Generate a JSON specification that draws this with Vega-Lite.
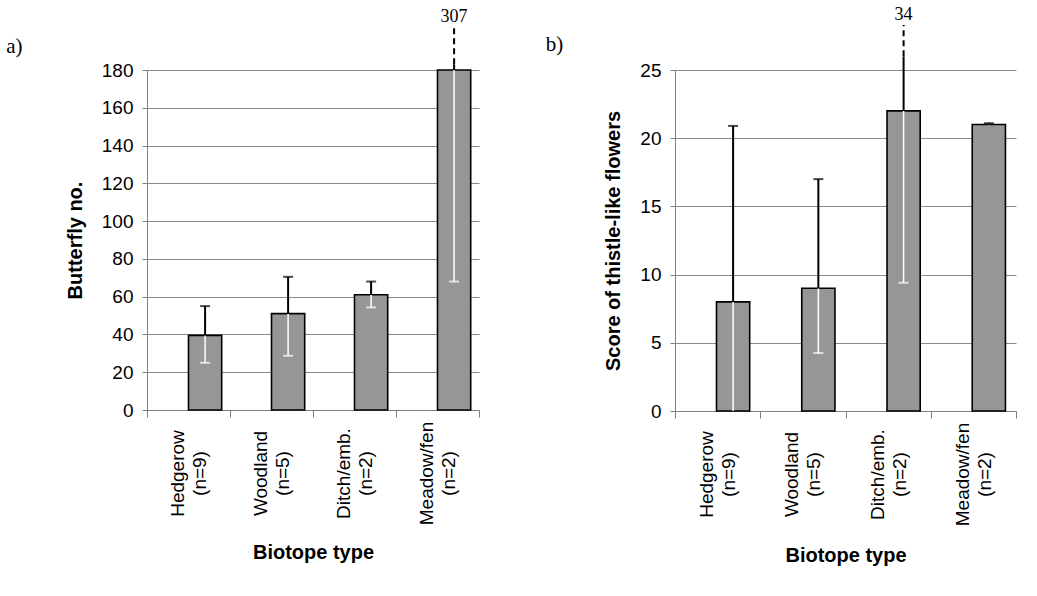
{
  "$schema": "https://vega.github.io/schema/vega-lite/v6.json",
  "padding": {"left": 6, "top": 5, "right": 0, "bottom": 0},
  "background": "white",
  "config": {
    "font": "Liberation Sans",
    "view": {"stroke": null},
    "concat": {"spacing": 65},
    "axis": {
      "labelFont": "Liberation Sans", "labelFontSize": 19, "labelColor": "#000",
      "titleFont": "Liberation Sans", "titleFontSize": 20, "titleFontWeight": "bold", "titleColor": "#000",
      "domainColor": "#808080", "tickColor": "#808080", "gridColor": "#8a8a8a", "gridWidth": 1
    }
  },
  "datasets": {
    "butterfly": [
      {"biotope": "Hedgerow (n=9)", "series": "s2", "mean": 39.5, "upper_solid": 55, "upper_cap": 55, "lower": 25, "lower_cap": 25, "dash_from": null, "dash_to": null, "upper_text": null},
      {"biotope": "Woodland (n=5)", "series": "s2", "mean": 51, "upper_solid": 70.5, "upper_cap": 70.5, "lower": 28.7, "lower_cap": 28.7, "dash_from": null, "dash_to": null, "upper_text": null},
      {"biotope": "Ditch/emb. (n=2)", "series": "s2", "mean": 61, "upper_solid": 68, "upper_cap": 68, "lower": 54.3, "lower_cap": 54.3, "dash_from": null, "dash_to": null, "upper_text": null},
      {"biotope": "Meadow/fen (n=2)", "series": "s2", "mean": 180, "upper_solid": 183, "upper_cap": null, "lower": 68, "lower_cap": 68, "dash_from": 183, "dash_to": 203, "upper_text": "307"}
    ],
    "thistle": [
      {"biotope": "Hedgerow (n=9)", "series": "s2", "mean": 8, "upper_solid": 20.9, "upper_cap": 20.9, "lower": 0, "lower_cap": null, "dash_from": null, "dash_to": null, "upper_text": null},
      {"biotope": "Woodland (n=5)", "series": "s2", "mean": 9, "upper_solid": 17, "upper_cap": 17, "lower": 4.25, "lower_cap": 4.25, "dash_from": null, "dash_to": null, "upper_text": null},
      {"biotope": "Ditch/emb. (n=2)", "series": "s2", "mean": 22, "upper_solid": 26, "upper_cap": null, "lower": 9.4, "lower_cap": 9.4, "dash_from": 26, "dash_to": 28.3, "upper_text": "34"},
      {"biotope": "Meadow/fen (n=2)", "series": "s2", "mean": 21, "upper_solid": 21.1, "upper_cap": 21.1, "lower": 20.95, "lower_cap": null, "dash_from": null, "dash_to": null, "upper_text": null}
    ]
  },
  "hconcat": [
    {
      "title": {"text": "a)", "anchor": "start", "frame": "bounds", "font": "Liberation Serif", "fontSize": 21, "fontWeight": "normal", "color": "#000", "dx": -59, "dy": 49, "offset": 0},
      "width": 332,
      "height": 340,
      "data": {"name": "butterfly"},
      "encoding": {
        "x": {
          "field": "biotope", "type": "nominal", "sort": null,
          "scale": {"paddingInner": 0, "paddingOuter": 0},
          "axis": {"title": "Biotope type", "labelAngle": -90, "labelAlign": "center", "labelBaseline": "middle", "labelPadding": 56, "labelOffset": -11, "labelExpr": "split(datum.label, ' ')", "labelLineHeight": 22, "tickBand": "extent", "tickSize": 7, "titlePadding": 18}
        },
        "xOffset": {"field": "series", "type": "nominal", "scale": {"domain": ["s1", "s2"], "paddingInner": 0, "paddingOuter": 0.25}}
      },
      "layer": [
        {
          "mark": {"type": "bar", "fill": "#969696", "stroke": "#000", "strokeWidth": 1.6},
          "encoding": {
            "y": {"field": "mean", "type": "quantitative", "scale": {"domain": [0, 180], "nice": false},
              "axis": {"title": "Butterfly no.", "values": [0, 20, 40, 60, 80, 100, 120, 140, 160, 180], "labelOverlap": false, "grid": true, "tickSize": 5, "labelPadding": 9, "titlePadding": 16}}
          }
        },
        {"mark": {"type": "rule", "color": "#fff", "strokeWidth": 1.5}, "encoding": {"y": {"field": "lower", "type": "quantitative", "axis": {"title": "Butterfly no.", "values": [0, 20, 40, 60, 80, 100, 120, 140, 160, 180], "labelOverlap": false, "grid": true, "tickSize": 5, "labelPadding": 9, "titlePadding": 16}}, "y2": {"field": "mean"}}},
        {"mark": {"type": "rule", "color": "#000", "strokeWidth": 2}, "encoding": {"y": {"field": "mean", "type": "quantitative", "axis": {"title": "Butterfly no.", "values": [0, 20, 40, 60, 80, 100, 120, 140, 160, 180], "labelOverlap": false, "grid": true, "tickSize": 5, "labelPadding": 9, "titlePadding": 16}}, "y2": {"field": "upper_solid"}}},
        {"mark": {"type": "rule", "color": "#000", "strokeWidth": 2, "strokeDash": [6, 4]}, "encoding": {"y": {"field": "dash_from", "type": "quantitative", "axis": {"title": "Butterfly no.", "values": [0, 20, 40, 60, 80, 100, 120, 140, 160, 180], "labelOverlap": false, "grid": true, "tickSize": 5, "labelPadding": 9, "titlePadding": 16}}, "y2": {"field": "dash_to"}}},
        {"mark": {"type": "tick", "color": "#000", "thickness": 2, "size": 10}, "encoding": {"y": {"field": "upper_cap", "type": "quantitative", "axis": {"title": "Butterfly no.", "values": [0, 20, 40, 60, 80, 100, 120, 140, 160, 180], "labelOverlap": false, "grid": true, "tickSize": 5, "labelPadding": 9, "titlePadding": 16}}}},
        {"mark": {"type": "tick", "color": "#fff", "thickness": 2, "size": 10}, "encoding": {"y": {"field": "lower_cap", "type": "quantitative", "axis": {"title": "Butterfly no.", "values": [0, 20, 40, 60, 80, 100, 120, 140, 160, 180], "labelOverlap": false, "grid": true, "tickSize": 5, "labelPadding": 9, "titlePadding": 16}}}},
        {"mark": {"type": "text", "font": "Liberation Serif", "fontSize": 18, "baseline": "bottom", "dy": -1, "color": "#000"}, "encoding": {"y": {"field": "dash_to", "type": "quantitative", "axis": {"title": "Butterfly no.", "values": [0, 20, 40, 60, 80, 100, 120, 140, 160, 180], "labelOverlap": false, "grid": true, "tickSize": 5, "labelPadding": 9, "titlePadding": 16}}, "text": {"field": "upper_text"}}}
      ]
    },
    {
      "title": {"text": "b)", "anchor": "start", "frame": "bounds", "font": "Liberation Serif", "fontSize": 21, "fontWeight": "normal", "color": "#000", "dx": -58, "dy": 49, "offset": 0},
      "width": 341,
      "height": 341,
      "data": {"name": "thistle"},
      "encoding": {
        "x": {
          "field": "biotope", "type": "nominal", "sort": null,
          "scale": {"paddingInner": 0, "paddingOuter": 0},
          "axis": {"title": "Biotope type", "labelAngle": -90, "labelAlign": "center", "labelBaseline": "middle", "labelPadding": 56, "labelOffset": -11, "labelExpr": "split(datum.label, ' ')", "labelLineHeight": 22, "tickBand": "extent", "tickSize": 7, "titlePadding": 20}
        },
        "xOffset": {"field": "series", "type": "nominal", "scale": {"domain": ["s1", "s2"], "paddingInner": 0, "paddingOuter": 0.25}}
      },
      "layer": [
        {
          "mark": {"type": "bar", "fill": "#969696", "stroke": "#000", "strokeWidth": 1.6},
          "encoding": {
            "y": {"field": "mean", "type": "quantitative", "scale": {"domain": [0, 25], "nice": false},
              "axis": {"title": "Score of thistle-like flowers", "values": [0, 5, 10, 15, 20, 25], "labelOverlap": false, "grid": true, "tickSize": 5, "labelPadding": 9, "titlePadding": 16}}
          }
        },
        {"mark": {"type": "rule", "color": "#fff", "strokeWidth": 1.5}, "encoding": {"y": {"field": "lower", "type": "quantitative", "axis": {"title": "Score of thistle-like flowers", "values": [0, 5, 10, 15, 20, 25], "labelOverlap": false, "grid": true, "tickSize": 5, "labelPadding": 9, "titlePadding": 16}}, "y2": {"field": "mean"}}},
        {"mark": {"type": "rule", "color": "#000", "strokeWidth": 2}, "encoding": {"y": {"field": "mean", "type": "quantitative", "axis": {"title": "Score of thistle-like flowers", "values": [0, 5, 10, 15, 20, 25], "labelOverlap": false, "grid": true, "tickSize": 5, "labelPadding": 9, "titlePadding": 16}}, "y2": {"field": "upper_solid"}}},
        {"mark": {"type": "rule", "color": "#000", "strokeWidth": 2, "strokeDash": [6, 4]}, "encoding": {"y": {"field": "dash_from", "type": "quantitative", "axis": {"title": "Score of thistle-like flowers", "values": [0, 5, 10, 15, 20, 25], "labelOverlap": false, "grid": true, "tickSize": 5, "labelPadding": 9, "titlePadding": 16}}, "y2": {"field": "dash_to"}}},
        {"mark": {"type": "tick", "color": "#000", "thickness": 2, "size": 10}, "encoding": {"y": {"field": "upper_cap", "type": "quantitative", "axis": {"title": "Score of thistle-like flowers", "values": [0, 5, 10, 15, 20, 25], "labelOverlap": false, "grid": true, "tickSize": 5, "labelPadding": 9, "titlePadding": 16}}}},
        {"mark": {"type": "tick", "color": "#fff", "thickness": 2, "size": 10}, "encoding": {"y": {"field": "lower_cap", "type": "quantitative", "axis": {"title": "Score of thistle-like flowers", "values": [0, 5, 10, 15, 20, 25], "labelOverlap": false, "grid": true, "tickSize": 5, "labelPadding": 9, "titlePadding": 16}}}},
        {"mark": {"type": "text", "font": "Liberation Serif", "fontSize": 18, "baseline": "bottom", "dy": -1, "color": "#000"}, "encoding": {"y": {"field": "dash_to", "type": "quantitative", "axis": {"title": "Score of thistle-like flowers", "values": [0, 5, 10, 15, 20, 25], "labelOverlap": false, "grid": true, "tickSize": 5, "labelPadding": 9, "titlePadding": 16}}, "text": {"field": "upper_text"}}}
      ]
    }
  ]
}
